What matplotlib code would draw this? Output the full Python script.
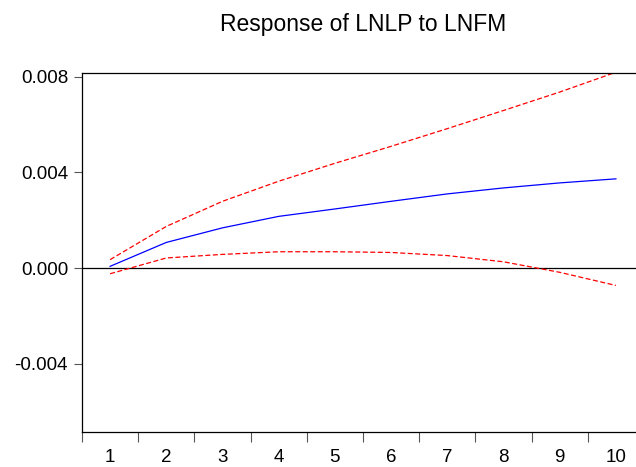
import matplotlib
matplotlib.use("Agg")
import matplotlib.pyplot as plt

periods = [1, 2, 3, 4, 5, 6, 7, 8, 9, 10]
response = [0.00007, 0.00107, 0.00168, 0.00216, 0.00247, 0.00279, 0.00310, 0.00335, 0.00356, 0.00373]
upper = [0.00035, 0.00174, 0.00279, 0.00363, 0.00438, 0.00509, 0.00583, 0.00659, 0.00736, 0.00819]
lower = [-0.00024, 0.00042, 0.00057, 0.00068, 0.00068, 0.00065, 0.00052, 0.00026, -0.00018, -0.00073]
ytick_vals = [-0.004, 0.000, 0.004, 0.008]
ytick_labels = ["-0.004", "0.000", "0.004", "0.008"]
title = "Response of LNLP to LNFM"

plt.rcParams['font.family'] = ['Liberation Sans', 'DejaVu Sans']

fig = plt.figure(figsize=(6.36, 4.67), dpi=100)
ax = fig.add_axes([82/636, 35/467, (644-82)/636, (432-72.7)/467])

ax.axhline(0, color='black', lw=0.9, zorder=1)
ax.plot(periods, response, color='#0000ff', lw=0.9, zorder=3)
ax.plot(periods, upper, color='#ff0000', lw=0.9, dashes=(4, 2), zorder=2)
ax.plot(periods, lower, color='#ff0000', lw=0.9, dashes=(4, 2), zorder=2)

ax.set_xlim(0.5, 10.5)
ax.set_ylim(-0.00686, 0.00817)

ax.set_yticks(ytick_vals)
ax.set_yticklabels(ytick_labels, fontsize=13.5)
ax.tick_params(axis='y', direction='out', length=6, width=0.8, color='#555555', pad=4)

# x: boundary ticks (unlabeled) and centered labels
ax.set_xticks([p - 0.5 for p in periods] + [periods[-1] + 0.5])
ax.set_xticklabels([])
ax.set_xticks(periods, minor=True)
ax.set_xticklabels([str(p) for p in periods], minor=True, fontsize=13.5)
ax.tick_params(axis='x', which='major', direction='out', length=7, width=0.8, color='#555555')
ax.tick_params(axis='x', which='minor', length=0, pad=12)

for s in ['top', 'left', 'bottom']:
    ax.spines[s].set_linewidth(0.9)
    ax.spines[s].set_color('black')
ax.spines['right'].set_visible(False)

fig.text(363/636, 1 - 25/467, title, ha='center', va='center', fontsize=16.5)

fig.savefig("out.png", dpi=100)
